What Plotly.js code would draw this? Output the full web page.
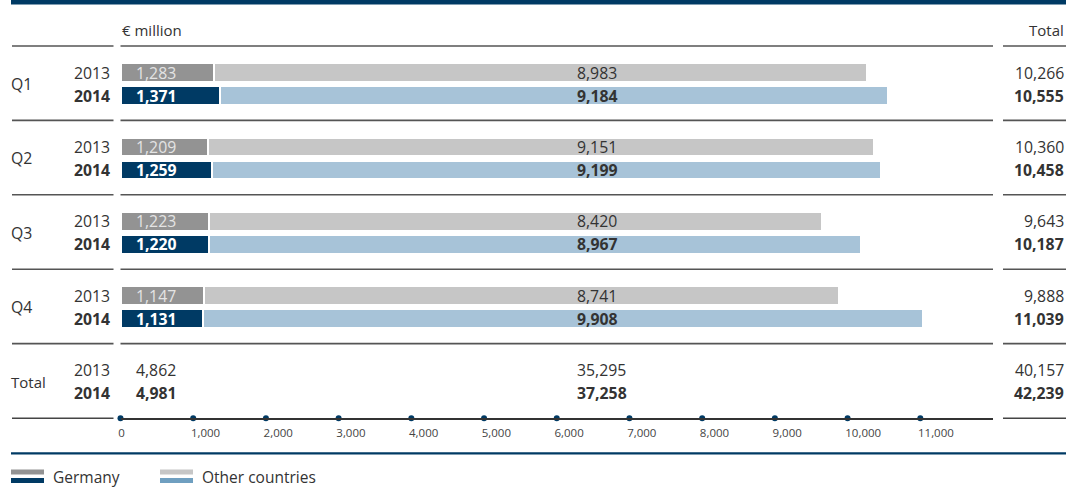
<!DOCTYPE html>
<html>
<head>
<meta charset="utf-8">
<script src="https://cdn.plot.ly/plotly-3.0.1.min.js"></script>
<style>html,body{margin:0;padding:0;background:#fff;}#chart{width:1066px;height:487px;}</style>
</head>
<body>
<div id="chart"></div>
<script>
// ---- data ----
const quarters = ['Q1', 'Q2', 'Q3', 'Q4'];
const years = ['2013', '2014'];
const germany2013 = [1283, 1209, 1223, 1147];
const germany2014 = [1371, 1259, 1220, 1131];
const other2013 = [8983, 9151, 8420, 8741];
const other2014 = [9184, 9199, 8967, 9908];
const total2013 = [10266, 10360, 9643, 9888];
const total2014 = [10555, 10458, 10187, 11039];
const yearTotalGermany = [4862, 4981];
const yearTotalOther = [35295, 37258];
const yearTotalAll = [40157, 42239];
const tickValues = [0, 1000, 2000, 3000, 4000, 5000, 6000, 7000, 8000, 9000, 10000, 11000];
const unitLabel = '€ million';
const totalLabel = 'Total';
const legendNames = ['Germany', 'Other countries'];

// ---- layout constants (pixels) ----
const W = 1066, H = 487;
const FIRST_ROW = 72.5, YEAR_STEP = 23, GROUP_STEP = 74.4;
const RULE_OFFSET = -26.5;
const AXIS_Y = 418.3;
const FONT = '"Open Sans", "Noto Sans", sans-serif';
const TXT = '#333333';
const C_GER13 = '#939393', C_GER14 = '#003a64', C_OTH13 = '#c6c6c6', C_OTH14 = '#a7c3d8';
const C_LEG_OTH14 = '#6f9fc0';
const NAVY = '#003a64';
const FS = 15.8;

const fmt = v => v.toLocaleString('en-US');
const px = p => p / W;
const rowY = (g, yr) => FIRST_ROW + g * GROUP_STEP + yr * YEAR_STEP;
const y13 = quarters.map((q, g) => rowY(g, 0));
const y14 = quarters.map((q, g) => rowY(g, 1));

const BAR_W = 18.5;
const lineW = {color: '#ffffff', width: 2};
const traces = [
  {type: 'bar', orientation: 'h', x: germany2013, y: y13, width: BAR_W, marker: {color: C_GER13, line: lineW}, hoverinfo: 'skip'},
  {type: 'bar', orientation: 'h', x: other2013, y: y13, width: BAR_W, marker: {color: C_OTH13, line: lineW}, hoverinfo: 'skip'},
  {type: 'bar', orientation: 'h', x: germany2014, y: y14, width: BAR_W, marker: {color: C_GER14, line: lineW}, hoverinfo: 'skip'},
  {type: 'bar', orientation: 'h', x: other2014, y: y14, width: BAR_W, marker: {color: C_OTH14, line: lineW}, hoverinfo: 'skip'},
  {type: 'scatter', mode: 'markers', x: tickValues, y: tickValues.map(() => AXIS_Y),
   marker: {color: NAVY, size: 6}, cliponaxis: false, hoverinfo: 'skip'}
];

const annotations = [];
function ann(text, x, y, anchor, opts) {
  opts = opts || {};
  annotations.push({
    text: opts.bold ? '<b>' + text + '</b>' : text,
    xref: 'paper', yref: 'y', x: px(x), y: y,
    xanchor: anchor, yanchor: 'middle', showarrow: false,
    font: {family: FONT, size: opts.size || FS, color: opts.color || TXT}
  });
}
// header
ann(unitLabel, 120, 30, 'left', {size: 15});
ann(totalLabel, 1066, 30, 'right', {size: 15});

const GER_X = 134, OTH_X = 575, TOT_X = 1066, YEAR_X = 112, Q_X = 9;
quarters.forEach((q, g) => {
  ann(q, Q_X, (y13[g] + y14[g]) / 2, 'left');
  ann(years[0], YEAR_X, y13[g], 'right');
  ann(years[1], YEAR_X, y14[g], 'right', {bold: true});
  ann(fmt(germany2013[g]), GER_X, y13[g], 'left', {color: '#e4e4e4'});
  ann(fmt(germany2014[g]), GER_X, y14[g], 'left', {color: '#ffffff', bold: true});
  ann(fmt(other2013[g]), OTH_X, y13[g], 'left');
  ann(fmt(other2014[g]), OTH_X, y14[g], 'left', {bold: true});
  ann(fmt(total2013[g]), TOT_X, y13[g], 'right');
  ann(fmt(total2014[g]), TOT_X, y14[g], 'right', {bold: true});
});
// total row
const tg = quarters.length;
const ty13 = rowY(tg, 0), ty14 = rowY(tg, 1);
ann(totalLabel, Q_X, (ty13 + ty14) / 2, 'left', {size: 15});
ann(years[0], YEAR_X, ty13, 'right');
ann(years[1], YEAR_X, ty14, 'right', {bold: true});
ann(fmt(yearTotalGermany[0]), GER_X, ty13, 'left');
ann(fmt(yearTotalGermany[1]), GER_X, ty14, 'left', {bold: true});
ann(fmt(yearTotalOther[0]), OTH_X, ty13, 'left');
ann(fmt(yearTotalOther[1]), OTH_X, ty14, 'left', {bold: true});
ann(fmt(yearTotalAll[0]), TOT_X, ty13, 'right');
ann(fmt(yearTotalAll[1]), TOT_X, ty14, 'right', {bold: true});

// legend text
[[legendNames[0], 52], [legendNames[1], 201]].forEach(([t, x]) => {
  annotations.push({text: t, xref: 'paper', yref: 'paper', x: px(x), y: 1 - 476.5 / H,
    xanchor: 'left', yanchor: 'middle', showarrow: false, borderpad: 0,
    font: {family: FONT, size: 15.5, color: TXT}});
});

// shapes: rules and bands
const shapes = [];
function rect(x0, x1, y0, y1, color) {
  shapes.push({type: 'rect', xref: 'paper', yref: 'paper', x0: px(x0), x1: px(x1),
    y0: 1 - y1 / H, y1: 1 - y0 / H, fillcolor: color, line: {width: 0}, layer: 'below'});
}
function hline(x0, x1, y, color, w) {
  shapes.push({type: 'line', xref: 'paper', yref: 'paper', x0: px(x0), x1: px(x1),
    y0: 1 - y / H, y1: 1 - y / H, line: {color: color, width: w}});
}
rect(11, 1066, 0, 4.5, NAVY);
rect(11, 1066, 452.3, 454.5, NAVY);
for (let k = 0; k <= quarters.length; k++) {
  const y = rowY(k, 0) + RULE_OFFSET;
  hline(12, 113.5, y, '#555555', 1.6);
  hline(120.5, 993, y, '#555555', 1.6);
  hline(1003, 1066, y, '#555555', 1.6);
}
hline(12, 113.5, AXIS_Y, '#444444', 1.6);
hline(1003, 1066, AXIS_Y, '#444444', 1.6);
// legend swatches
rect(11, 44, 469.5, 474.5, C_GER13);
rect(11, 44, 478, 483, C_GER14);
rect(160, 193, 469.5, 474.5, C_OTH13);
rect(160, 193, 478, 483, C_LEG_OTH14);

const layout = {
  width: W, height: H,
  margin: {l: 0, r: 0, t: 0, b: 0, pad: 0},
  paper_bgcolor: '#ffffff', plot_bgcolor: 'rgba(0,0,0,0)',
  barmode: 'stack', bargap: 0, showlegend: false,
  font: {family: FONT, color: TXT},
  xaxis: {
    domain: [120.5 / W, 993 / W], range: [0, 12000],
    anchor: 'free', position: 1 - AXIS_Y / H,
    showgrid: false, zeroline: false,
    showline: true, linecolor: '#333333', linewidth: 1.4,
    tickmode: 'array', tickvals: tickValues, ticktext: tickValues.map(fmt),
    ticks: '', ticklabelposition: 'outside right', ticklabelstandoff: 3, ticklabelshift: -3,
    tickfont: {family: FONT, size: 11.5, color: '#444444'},
    fixedrange: true
  },
  yaxis: {domain: [0, 1], range: [H, 0], visible: false, fixedrange: true},
  shapes: shapes,
  annotations: annotations
};

Plotly.newPlot('chart', traces, layout, {displayModeBar: false, staticPlot: true});
</script>
</body>
</html>
